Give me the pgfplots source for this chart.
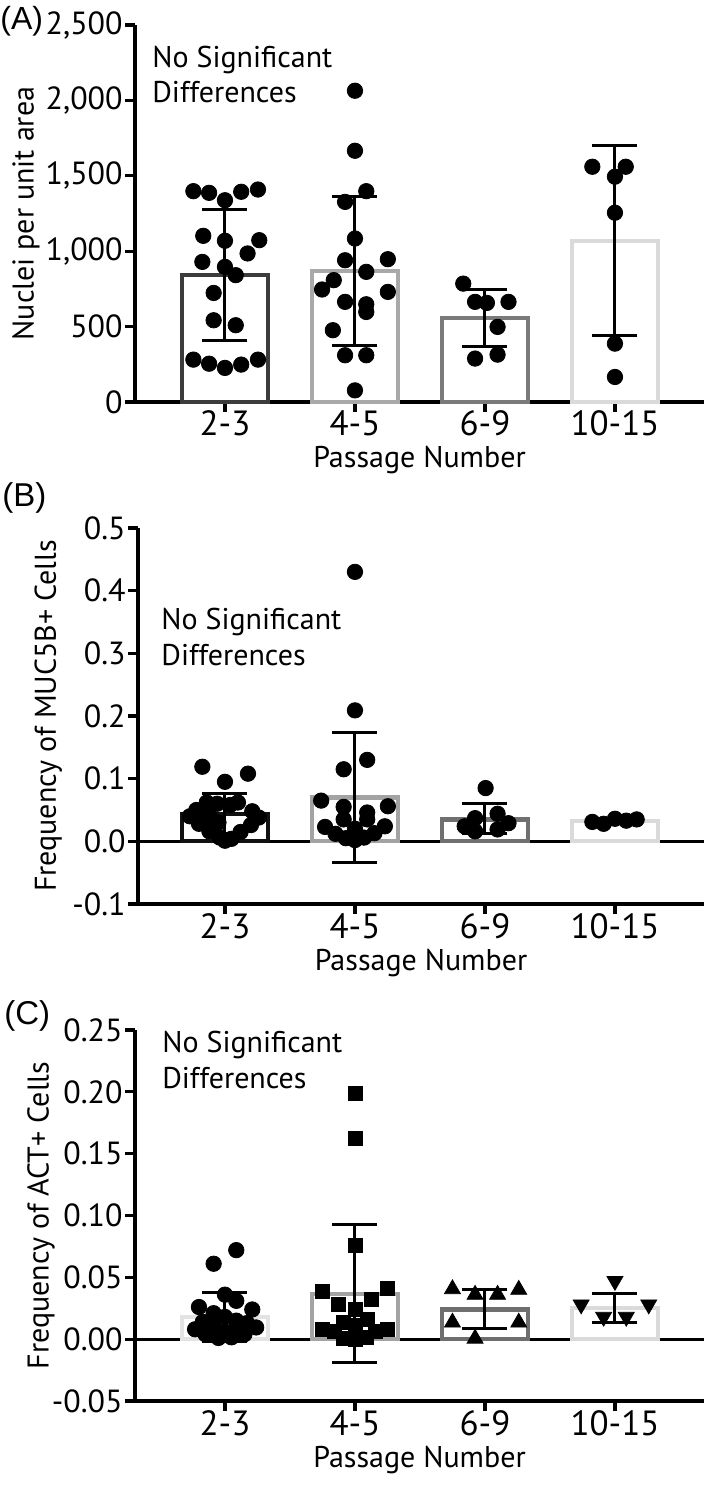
\documentclass[border=0pt]{standalone}
\usepackage{fontspec}
\setmainfont{PT Sans}
\newfontfamily\arialfont{Liberation Sans}
\usepackage{pgfplots}
\pgfplotsset{compat=1.18}

\definecolor{aA}{HTML}{3C3C3C}
\definecolor{aB}{HTML}{A9A9A9}
\definecolor{aC}{HTML}{7B7B7B}
\definecolor{aD}{HTML}{DADADA}
\definecolor{bA}{HTML}{111111}
\definecolor{bB}{HTML}{A3A3A3}
\definecolor{bC}{HTML}{707070}
\definecolor{bD}{HTML}{DADADA}
\definecolor{cA}{HTML}{E3E3E3}
\definecolor{cB}{HTML}{A3A3A3}
\definecolor{cC}{HTML}{6E6E6E}
\definecolor{cD}{HTML}{DADADA}

\newcommand{\bigfont}{\fontsize{15}{18}\selectfont}
\newcommand{\xtickfont}{\fontsize{17.5}{20}\selectfont}
\newcommand{\ytickfont}{\fontsize{16}{19}\selectfont}

\pgfplotsset{
  panel/.style={
    scale only axis,
    axis x line*=bottom, axis y line*=left,
    axis line style={line width=1.6pt, black},
    every tick/.style={line width=1.6pt, black},
    major tick length=5pt,
    tick align=outside,
    xtick={0,1,2,3}, xticklabels={2-3,4-5,6-9,10-15},
    xmax=3.685,
    yticklabel style={font=\ytickfont, inner sep=1pt},
    xticklabel style={font=\xtickfont, anchor=base, yshift=-12pt},
    label style={font=\bigfont},
    xlabel={Passage Number},
    xlabel style={at={(axis description cs:0.5,0)}, anchor=base, yshift=-33pt},
    clip=false,
  },
  barsty/.style={ybar, bar width=0.667, bar shift=0pt, fill=white, line width=2.1pt, forget plot},
  errsty/.style={mark=none, draw=none, forget plot,
    error bars/.cd, y dir=both, y explicit,
    error bar style={draw=black, line width=1.5pt},
    error mark options={draw=black, line width=1.5pt, mark size=11.25pt, rotate=90}},
  dots/.style={only marks, mark=*, mark size=3.85pt, mark options={fill=black, draw=black}, forget plot},
}

\begin{document}
\begin{tikzpicture}
\path[use as bounding box] (0,0) rectangle (354.5pt,-745.5pt);

\node[anchor=base west, inner sep=0, font=\arialfont\fontsize{16}{19}\selectfont] at (0pt,-15pt) {(A)};
\node[anchor=base west, inner sep=0, font=\arialfont\fontsize{16.5}{19}\selectfont] at (1pt,-253.5pt) {(B)};
\node[anchor=base west, inner sep=0, font=\arialfont\fontsize{16.5}{19}\selectfont] at (2pt,-512pt) {(C)};

% ---------------- Panel A ----------------
\begin{axis}[panel,
  at={(67.5pt,-201pt)}, anchor=south west,
  width=284.5pt, height=188.5pt,
  xmin=-0.692, ymin=0, ymax=2500,
  ytick={0,500,1000,1500,2000,2500},
  yticklabels={0,500,{1,000},{1,500},{2,000},{2,500}},
  ylabel={Nuclei per unit area},
  ylabel style={at={(axis description cs:-0.178,0.5)}, anchor=base},
]
\addplot[barsty, draw=aA] coordinates {(0,842.5)};
\addplot[barsty, draw=aB] coordinates {(1,870.5)};
\addplot[barsty, draw=aC] coordinates {(2,555)};
\addplot[barsty, draw=aD] coordinates {(3,1070)};
\addplot[dots] coordinates {
 (-0.243,1398) (-0.122,1387) (0,1338) (0.125,1394) (0.254,1409)
 (-0.167,1102) (0,1069) (0.264,1073) (0.174,985)
 (-0.174,929) (0,896) (0.083,841) (-0.087,723)
 (-0.087,542) (0.083,509)
 (-0.243,281) (-0.122,254) (0,226) (0.125,248) (0.254,281)
 (1,2064) (1,1666) (1.087,1398) (0.924,1327) (1,1084) (0.924,940) (1.253,947)
 (1.087,863) (0.837,808) (0.747,746) (1.253,730) (0.924,664) (1.087,648)
 (1.087,597) (0.83,476) (0.924,310) (1.087,310) (1,77)
 (1.833,785) (1.924,664) (2.015,657) (2.181,664) (2.097,498) (1.924,288) (2.097,314)
 (2.826,1560) (3.083,1560) (3,1494) (3,1255) (3,387) (3,166)
};
\addplot[errsty] coordinates {
 (0,842.5) +- (0,433.5)
 (1,870.5) +- (0,494.5)
 (2,555) +- (0,190)
 (3,1070) +- (0,628)
};
\node[anchor=base west, inner sep=0, font=\bigfont] at (axis cs:-0.5615,2221) {No Significant};
\node[anchor=base west, inner sep=0, font=\bigfont] at (axis cs:-0.5615,1983) {Differences};
\end{axis}

% ---------------- Panel B ----------------
\begin{axis}[panel,
  at={(69pt,-452pt)}, anchor=south west,
  width=283pt, height=188pt,
  xmin=-0.669, ymin=-0.1, ymax=0.5,
  ytick={-0.1,0,0.1,0.2,0.3,0.4,0.5},
  yticklabels={-0.1,0.0,0.1,0.2,0.3,0.4,0.5},
  ylabel={Frequency of MUC5B+ Cells},
  ylabel style={at={(axis description cs:-0.145,0.5)}, anchor=base},
]
\draw[line width=1.6pt, black] (axis cs:-0.669,0) -- (axis cs:3.685,0);
\addplot[barsty, draw=bA] coordinates {(0,0.044)};
\addplot[barsty, draw=bB] coordinates {(1,0.070)};
\addplot[barsty, draw=bC] coordinates {(2,0.035)};
\addplot[barsty, draw=bD] coordinates {(3,0.033)};
\addplot[dots] coordinates {
 (-0.174,0.119) (0.177,0.108) (0,0.095)
 (-0.14,0.062) (-0.06,0.060) (0.04,0.058) (0.10,0.062)
 (-0.22,0.050) (0.21,0.048)
 (-0.27,0.040) (0.26,0.038) (-0.12,0.040)
 (-0.20,0.028) (0.20,0.026) (-0.05,0.030)
 (-0.12,0.016) (0.12,0.015)
 (-0.04,0.006) (0.05,0.004) (0,0.001)
 (1,0.430) (1,0.209) (1.094,0.130) (0.913,0.115) (0.74,0.065) (1.253,0.056)
 (0.913,0.055) (1.094,0.046) (0.913,0.035) (1.094,0.035) (0.77,0.023) (1.23,0.024)
 (0.85,0.012) (1.15,0.013) (0.93,0.005) (1.07,0.006) (1,0.002) (1,0.020)
 (2.005,0.085) (2.097,0.044) (1.924,0.037) (1.844,0.024) (2.181,0.029) (1.924,0.016) (2.097,0.019)
 (2.826,0.031) (2.913,0.028) (3,0.036) (3.087,0.033) (3.167,0.035)
};
\addplot[errsty] coordinates {
 (0,0.044) +- (0,0.032)
 (1,0.070) +- (0,0.104)
 (2,0.036) +- (0,0.024)
 (3,0.033) +- (0,0.004)
};
\node[anchor=base west, inner sep=0, font=\bigfont] at (axis cs:-0.492,0.3376) {No Significant};
\node[anchor=base west, inner sep=0, font=\bigfont] at (axis cs:-0.492,0.280) {Differences};
\end{axis}

% ---------------- Panel C ----------------
\begin{axis}[panel,
  at={(67.5pt,-700.5pt)}, anchor=south west,
  width=284.5pt, height=185.5pt,
  xmin=-0.692, ymin=-0.05, ymax=0.25,
  ytick={-0.05,0,0.05,0.1,0.15,0.2,0.25},
  yticklabels={-0.05,0.00,0.05,0.10,0.15,0.20,0.25},
  ylabel={Frequency of ACT+ Cells},
  ylabel style={at={(axis description cs:-0.152,0.5)}, anchor=base},
]
\draw[line width=1.6pt, black] (axis cs:-0.692,0) -- (axis cs:3.685,0);
\addplot[barsty, draw=cA] coordinates {(0,0.018)};
\addplot[barsty, draw=cB] coordinates {(1,0.0365)};
\addplot[barsty, draw=cC] coordinates {(2,0.024)};
\addplot[barsty, draw=cD] coordinates {(3,0.025)};
\addplot[dots] coordinates {
 (-0.087,0.061) (0.087,0.072) (0,0.036) (-0.2,0.026) (0.087,0.031) (0.21,0.024)
 (-0.087,0.021) (0,0.018) (0.087,0.015) (-0.17,0.014) (0.17,0.013) (-0.087,0.011)
 (0.087,0.010) (-0.23,0.008) (0.24,0.0095) (-0.15,0.004) (0.15,0.004) (-0.05,0.001)
 (0.05,0.0015) (0,0.006)
};
\addplot[only marks, mark=square*, mark size=3.5pt, mark options={fill=black, draw=black}, forget plot] coordinates {
 (1,0.199) (1,0.162) (1,0.076) (0.747,0.039) (1.253,0.041) (1.128,0.032) (0.872,0.028)
 (1,0.024) (1.094,0.016) (0.913,0.0135) (1,0.011) (0.747,0.008) (1.253,0.008)
 (0.84,0.006) (1.16,0.006) (0.913,0.001) (1.087,0.0015) (1,0.0)
};
\addplot[only marks, mark=triangle*, mark size=4.6pt, mark options={fill=black, draw=black}, forget plot] coordinates {
 (1.75,0.0405) (1.924,0.036) (2.097,0.036) (2.26,0.040) (1.75,0.0135) (2.26,0.0135) (1.924,0.0005)
};
\addplot[only marks, mark=triangle*, mark size=4.6pt, mark options={fill=black, draw=black, rotate=180}, forget plot] coordinates {
 (3,0.047) (2.74,0.028) (3.26,0.028) (2.913,0.018) (3.087,0.018)
};
\addplot[errsty] coordinates {
 (0,0.018) +- (0,0.020)
 (1,0.037) +- (0,0.056)
 (2,0.0243) +- (0,0.0157)
 (3,0.0253) +- (0,0.0118)
};
\node[anchor=base west, inner sep=0, font=\bigfont] at (axis cs:-0.485,0.232) {No Significant};
\node[anchor=base west, inner sep=0, font=\bigfont] at (axis cs:-0.485,0.203) {Differences};
\end{axis}
\end{tikzpicture}
\end{document}
